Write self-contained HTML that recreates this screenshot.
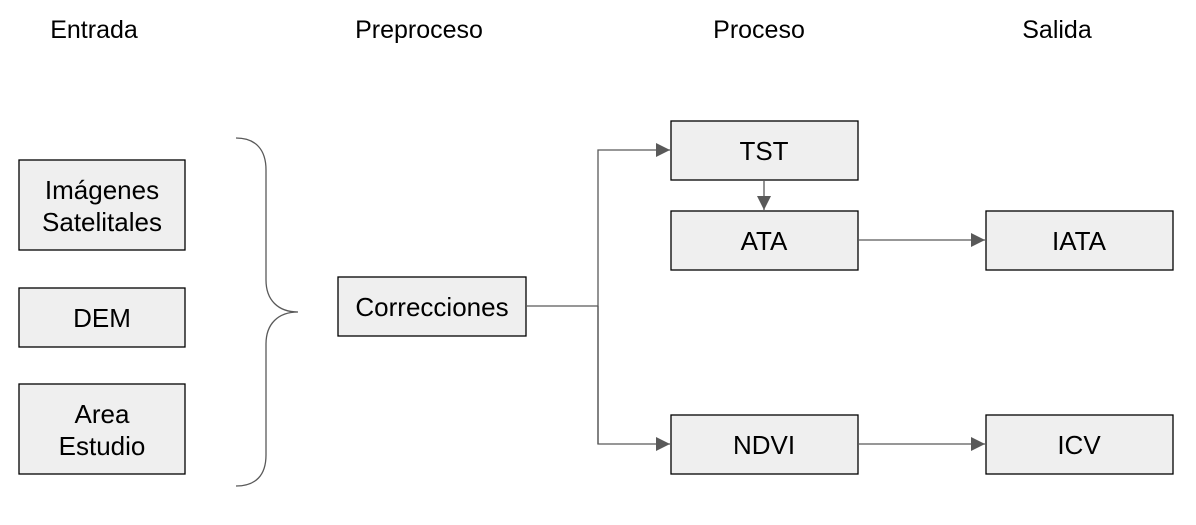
<!DOCTYPE html>
<html><head><meta charset="utf-8"><style>body{margin:0;background:#fff}svg{display:block}text{font-family:"Liberation Sans",Arial,sans-serif;font-size:26px;fill:#000;text-anchor:middle}</style></head>
<body>
<svg width="1196" height="525" viewBox="0 0 1196 525">
<defs><marker id="a" viewBox="0 0 10 10" refX="10" refY="5" markerWidth="14" markerHeight="14" markerUnits="userSpaceOnUse" orient="auto"><path d="M0,0L10,5L0,10z" fill="#595959"/></marker></defs>
<text x="94" y="38" style="font-size:25px">Entrada</text>
<text x="419" y="38" style="font-size:25px">Preproceso</text>
<text x="759" y="38" style="font-size:25px">Proceso</text>
<text x="1057" y="38" style="font-size:25px">Salida</text>
<g fill="#efefef" stroke="#000" stroke-width="1.3">
<rect x="19" y="160" width="166" height="90"/>
<rect x="19" y="288" width="166" height="59"/>
<rect x="19" y="384" width="166" height="90"/>
<rect x="338" y="277" width="188" height="59"/>
<rect x="671" y="121" width="187" height="59"/>
<rect x="671" y="211" width="187" height="59"/>
<rect x="986" y="211" width="187" height="59"/>
<rect x="671" y="415" width="187" height="59"/>
<rect x="986" y="415" width="187" height="59"/>
</g>
<text x="102" y="199">Imágenes</text>
<text x="102" y="231">Satelitales</text>
<text x="102" y="327">DEM</text>
<text x="102" y="423">Area</text>
<text x="102" y="455">Estudio</text>
<text x="432" y="316">Correcciones</text>
<text x="764" y="160">TST</text>
<text x="764" y="250">ATA</text>
<text x="1079" y="250">IATA</text>
<text x="764" y="454">NDVI</text>
<text x="1079" y="454">ICV</text>
<path d="M236,138 C256,138 266,150 266,170 L266,280 C266,300 278,312 298,312 C278,312 266,324 266,344 L266,455 C266,475 256,486 236,486" fill="none" stroke="#595959" stroke-width="1.3"/>
<g fill="none" stroke="#595959" stroke-width="1.3">
<path d="M526,306H598"/>
<path d="M598,444V150H670" marker-end="url(#a)"/>
<path d="M598,306V444H670" marker-end="url(#a)"/>
<path d="M764,180V210" marker-end="url(#a)"/>
<path d="M858,240H985" marker-end="url(#a)"/>
<path d="M858,444H985" marker-end="url(#a)"/>
</g>
</svg>
</body></html>
